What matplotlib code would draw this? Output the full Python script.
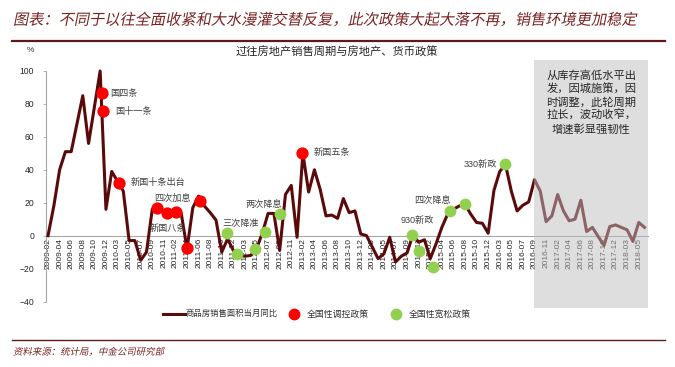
import matplotlib
matplotlib.use('Agg')
import matplotlib.pyplot as plt
import numpy as np
from matplotlib.patches import Rectangle
from matplotlib.lines import Line2D
from matplotlib.patheffects import AbstractPathEffect
from matplotlib.transforms import Affine2D

plt.rcParams['font.family'] = ['Liberation Sans', 'Noto Sans CJK SC', 'DejaVu Sans']

# ---------------- data ----------------
years = list(range(2009, 2019))
months = [f"{y}-{m:02d}" for y in years for m in range(2, 13)][:104]

sales_yoy = [
    0, 18, 40, 51, 51, 68, 85, 56, 78, 100, 16,          # 2009
    39, 33, 27, -3, -3, -15, -10, 16, 16.5, 14, 14,      # 2010
    14.5, 13.5, -8, 17, 24, 18, 14, 9.5, -10, -2, -9,    # 2011
    -12, -12.5, -12, -8, 1.5, 13.5, 13.5, -9, 25, 30.5, -1,  # 2012
    50, 26.5, 40, 28, 12, 12.5, 10.5, 22.5, 14, 15, 1,   # 2013
    0, -7, -14, -11, -1, -16, -12.5, -10.5, 0.5, -4, -2.5,  # 2014
    -14, -5, 5, 13, 16, 18, 19, 13, 8, 7.5, 1.5,         # 2015
    27.5, 39, 43, 27, 15, 18.5, 20.5, 34, 27, 8.5, 12,   # 2016
    25, 15, 9, 10, 21.5, 2.5, 5, -0.5, -6, 5.5, 6.5,     # 2017
    5, 3.5, -3.5, 8, 5,                                  # 2018
]

tight_x = [9.29, 9.46, 12.17, 18.75, 20.5, 22.1, 24.0, 26.2, 43.9]
tight_y = [86.4, 75.9, 32.0, 16.5, 14.0, 14.5, -7.8, 21.2, 50.0]

loose_x = [30.9, 32.6, 35.8, 37.5, 40.0, 62.9, 64.1, 66.4, 69.4, 72.0, 78.9]
loose_y = [1.7, -11.3, -8.4, 2.3, 13.0, 0.5, -9.2, -19.0, 15.0, 19.1, 43.5]

policy_labels = ["国四条", "国十一条", "新国十条出台", "四次加息", "新国八条", "三次降准",
                 "两次降息", "新国五条", "930新政", "四次降息", "330新政"]
label_x = [10.73, 11.6, 14.19, 21.45, 20.67, 33.2, 37.25, 45.9, 63.8, 66.4, 74.6]
label_y = [86.4, 75.3, 32.1, 22.6, 4.4, 7.6, 19.1, 50.3, 9.0, 21.6, 43.5]
label_ha = ["left", "left", "left", "center", "center", "center", "center", "left",
            "center", "center", "center"]

shade_start = 84  # 2016-09

# ---------------- style ----------------
W, H = 675, 367
LINE_C = '#5a0a0a'
RED = '#ff0000'
GREEN = '#92d050'
MAROON = '#7a2323'


class Skew(AbstractPathEffect):
    def __init__(self, shear=0.2):
        super().__init__()
        self.shear = shear

    def draw_path(self, renderer, gc, tpath, affine, rgbFace=None):
        y0 = affine.transform([(0, 0)])[0][1]
        sk = (Affine2D().translate(0, -y0)
              + Affine2D(np.array([[1, self.shear, 0], [0, 1, 0], [0, 0, 1]]))
              + Affine2D().translate(0, y0))
        renderer.draw_path(gc, tpath, affine + sk, rgbFace)


fig = plt.figure(figsize=(W / 100, H / 100), dpi=100)
fig.patch.set_facecolor('white')

ax = fig.add_axes([46 / W, 1 - 301.5 / H, (648 - 46) / W, (301.5 - 71) / H])
x = np.arange(len(sales_yoy))
ax.plot(x, sales_yoy, color=LINE_C, lw=2.2, zorder=3, clip_on=False)
ax.scatter(tight_x, tight_y, s=78, color=RED, zorder=5, linewidths=0, clip_on=False)
ax.scatter(loose_x, loose_y, s=72, color=GREEN, zorder=5, linewidths=0, clip_on=False)

ax.set_xlim(-0.35, 103.6)
ax.set_ylim(-40, 100)

for s in ['top', 'right']:
    ax.spines[s].set_visible(False)
ax.spines['left'].set_color('#a6a6a6')
ax.spines['left'].set_linewidth(0.8)
ax.spines['bottom'].set_position(('data', 0))
ax.spines['bottom'].set_color('#a6a6a6')
ax.spines['bottom'].set_linewidth(0.8)

ax.set_yticks(np.arange(-40, 101, 20))
ax.tick_params(axis='y', direction='out', length=2.5, width=0.6, color='#a6a6a6',
               labelsize=6.2, labelcolor='#262626', pad=6)
ax.set_xticks(x[::2])
ax.set_xticklabels(months[::2], rotation=90, fontsize=6, color='#262626')
ax.tick_params(axis='x', length=0, pad=1.5)

# shaded period
rect = Rectangle((shade_start, -44), 103.6 - shade_start, 150.7,
                 facecolor=(190 / 255, 190 / 255, 193 / 255), alpha=0.5,
                 lw=0, zorder=4, clip_on=False)
ax.add_patch(rect)
ax.text(0.5 * (shade_start + 103.6), 81, "从库存高低水平出\n发，因城施策，因\n时调整，此轮周期\n拉长，波动收窄，\n增速彰显强韧性",
        ha='center', va='center', fontsize=8.1, color='#262626', linespacing=1.29,
        zorder=6)

for t, lx, ly, ha in zip(policy_labels, label_x, label_y, label_ha):
    ax.text(lx, ly, t, ha=ha, va='center', fontsize=6.6, color='#404040', zorder=6)

# titles
fig.text(336.5 / W, 1 - 51.7 / H, "过往房地产销售周期与房地产、货币政策", ha='center', va='center',
         fontsize=8.1, color='#262626')
fig.text(30 / W, 1 - 50 / H, "%", ha='center', va='center', fontsize=6, color='#333333')

# header
fig.text(13 / W, 1 - 20 / H, "图表：不同于以往全面收紧和大水漫灌交替反复，此次政策大起大落不再，销售环境更加稳定",
         ha='left', va='center', fontsize=10.95, color=MAROON, path_effects=[Skew(0.2)])
fig.add_artist(Line2D([12 / W, 665 / W], [1 - 41 / H] * 2, color='#5e1a1a', lw=1.6))
fig.add_artist(Line2D([12 / W, 665 / W], [1 - 340 / H] * 2, color='#5e1a1a', lw=1.0))
fig.text(13 / W, 1 - 352 / H, "资料来源：统计局，中金公司研究部", ha='left', va='center',
         fontsize=6.8, color=MAROON, path_effects=[Skew(0.2)])

# legend (manual)
ly = 1 - 314 / H
fig.add_artist(Line2D([163 / W, 185 / W], [ly, ly], color=LINE_C, lw=2.2))
fig.text(185 / W, ly, "商品房销售面积当月同比", ha='left', va='center', fontsize=6.0, color='#333333')
fig.add_artist(Line2D([294 / W], [ly], marker='o', ms=7.5, color=RED, lw=0))
fig.text(307 / W, ly, "全国性调控政策", ha='left', va='center', fontsize=6.4, color='#333333')
fig.add_artist(Line2D([396 / W], [ly], marker='o', ms=7.5, color=GREEN, lw=0))
fig.text(409 / W, ly, "全国性宽松政策", ha='left', va='center', fontsize=6.4, color='#333333')

fig.savefig('out.png', dpi=100, facecolor='white')
